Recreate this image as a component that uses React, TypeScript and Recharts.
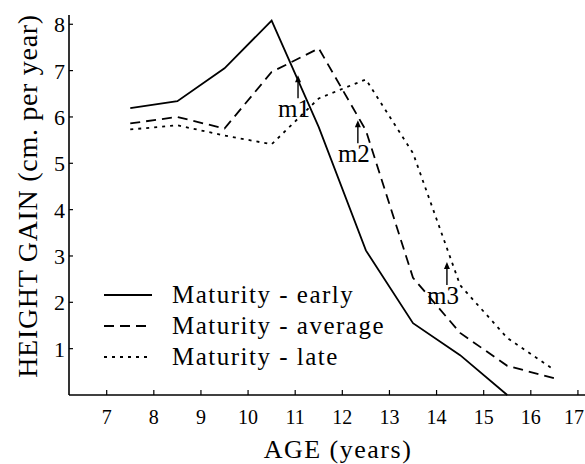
import React from 'react';
import { LineChart, Line, XAxis, YAxis, Legend, ReferenceDot } from 'recharts';

const FONT = '"Liberation Serif", "Times New Roman", serif';

// height gain per year
const earlyAges = [7.5, 8.5, 9.5, 10.5, 11.5, 12.5, 13.5, 14.5, 15.5];
const earlyGain = [6.19, 6.34, 7.05, 8.08, 5.78, 3.12, 1.55, 0.86, 0];

const averageAges = [7.5, 8.5, 9.5, 10.5, 11.5, 12.5, 13.5, 14.5, 15.5, 16.5];
const averageGain = [5.86, 6.0, 5.75, 6.97, 7.48, 5.71, 2.53, 1.34, 0.63, 0.36];

const lateAges = [7.5, 8.5, 9.5, 10.5, 11.5, 12.5, 13.5, 14.5, 15.5, 16.5];
const lateGain = [5.73, 5.82, 5.6, 5.41, 6.4, 6.81, 5.22, 2.37, 1.23, 0.54];

const xTicks = [7, 8, 9, 10, 11, 12, 13, 14, 15, 16, 17];
const yTicks = [1, 2, 3, 4, 5, 6, 7, 8];

// m1/m2/m3 arrows (arrow tip position)
const markerLabels = ['m1', 'm2', 'm3'];
const markerAges = [11.06, 12.33, 14.22];
const markerGain = [6.9, 5.93, 2.87];

const toRows = (ages: number[], gain: number[]) => ages.map((age, i) => ({ age, gain: gain[i] }));

const series = [
  { name: 'Maturity - early', data: toRows(earlyAges, earlyGain), dash: undefined as string | undefined },
  { name: 'Maturity - average', data: toRows(averageAges, averageGain), dash: '10 6' },
  { name: 'Maturity - late', data: toRows(lateAges, lateGain), dash: '3 5' },
];

const XTick = ({ x, y, payload }: any) => {
  // last label sits against the right edge of the figure
  const last = payload.value === xTicks[xTicks.length - 1];
  return (
    <g>
      <line x1={x} y1={y} x2={x} y2={y - 5} stroke="#000" strokeWidth={1.2} />
      <text
        x={last ? x + 6 : x}
        y={y + 29}
        textAnchor={last ? 'end' : 'middle'}
        fontSize={20}
        fontFamily={FONT}
        fill="#000"
      >
        {payload.value}
      </text>
    </g>
  );
};

const YTick = ({ x, y, payload }: any) => (
  <g>
    <line x1={x} y1={y} x2={x + 4} y2={y} stroke="#000" strokeWidth={1.2} />
    <text x={x - 4} y={y + 8} textAnchor="end" fontSize={22} fontFamily={FONT} fill="#000">
      {payload.value}
    </text>
  </g>
);

const Marker = ({ cx, cy, label }: any) => (
  <g>
    <line x1={cx} y1={cy + 3} x2={cx} y2={cy + 23} stroke="#000" strokeWidth={1.4} />
    <path d={`M${cx},${cy} L${cx - 3},${cy + 7} L${cx + 3},${cy + 7} Z`} fill="#000" />
    <text x={cx - 4} y={cy + 42} textAnchor="middle" fontSize={25} fontFamily={FONT} fill="#000">
      {label}
    </text>
  </g>
);

const LegendBox = () => (
  <div style={{ fontFamily: FONT, fontSize: 25, letterSpacing: 1.5, color: '#000' }}>
    {series.map((s) => (
      <div key={s.name} style={{ display: 'flex', alignItems: 'center', height: 31 }}>
        <svg width={52} height={31} style={{ marginRight: 18 }}>
          <line x1={2} y1={16} x2={50} y2={16} stroke="#000" strokeWidth={1.8} strokeDasharray={s.dash} />
        </svg>
        <span style={{ whiteSpace: 'nowrap', lineHeight: '31px' }}>{s.name}</span>
      </div>
    ))}
  </div>
);

export default function App() {
  return (
    <div style={{ position: 'absolute', left: 0, top: 0, background: '#fff' }}>
      <LineChart width={585} height={464} margin={{ top: 15, right: 0, left: 0, bottom: 0 }}>
        <XAxis
          dataKey="age"
          type="number"
          domain={[6.2, 17.15]}
          ticks={xTicks}
          allowDuplicatedCategory={false}
          height={69}
          tickSize={0}
          tickMargin={0}
          tickLine={false}
          axisLine={{ stroke: '#000', strokeWidth: 1.6 }}
          tick={<XTick />}
          interval={0}
          label={{
            content: ({ viewBox }: any) => (
              <text
                x={viewBox.x + viewBox.width / 2 + 11}
                y={viewBox.y + 63}
                textAnchor="middle"
                fontSize={26}
                letterSpacing={1.5}
                fontFamily={FONT}
                fill="#000"
              >
                AGE (years)
              </text>
            ),
          }}
        />
        <YAxis
          type="number"
          domain={[0, 8.2]}
          ticks={yTicks}
          width={69}
          tickSize={0}
          tickMargin={0}
          tickLine={false}
          axisLine={{ stroke: '#000', strokeWidth: 1.6 }}
          tick={<YTick />}
          interval={0}
          label={{
            content: ({ viewBox }: any) => {
              const cx = viewBox.x + 37;
              const cy = viewBox.y + 181;
              return (
                <text
                  x={cx}
                  y={cy}
                  transform={`rotate(-90, ${cx}, ${cy})`}
                  textAnchor="middle"
                  fontSize={28}
                  letterSpacing={0.7}
                  fontFamily={FONT}
                  fill="#000"
                >
                  HEIGHT GAIN (cm. per year)
                </text>
              );
            },
          }}
        />
        {series.map((s) => (
          <Line
            key={s.name}
            data={s.data}
            dataKey="gain"
            name={s.name}
            type="linear"
            stroke="#000"
            strokeWidth={1.8}
            strokeDasharray={s.dash}
            dot={false}
            activeDot={false}
            isAnimationActive={false}
          />
        ))}
        {markerLabels.map((m, i) => (
          <ReferenceDot
            key={m}
            x={markerAges[i]}
            y={markerGain[i]}
            r={1}
            ifOverflow="visible"
            shape={(p: any) => <Marker cx={p.cx} cy={p.cy} label={m} />}
          />
        ))}
        <Legend
          layout="vertical"
          align="center"
          verticalAlign="middle"
          content={() => <LegendBox />}
          wrapperStyle={{ position: 'absolute', left: 102, top: 279, width: 'auto', height: 'auto' }}
        />
      </LineChart>
    </div>
  );
}
